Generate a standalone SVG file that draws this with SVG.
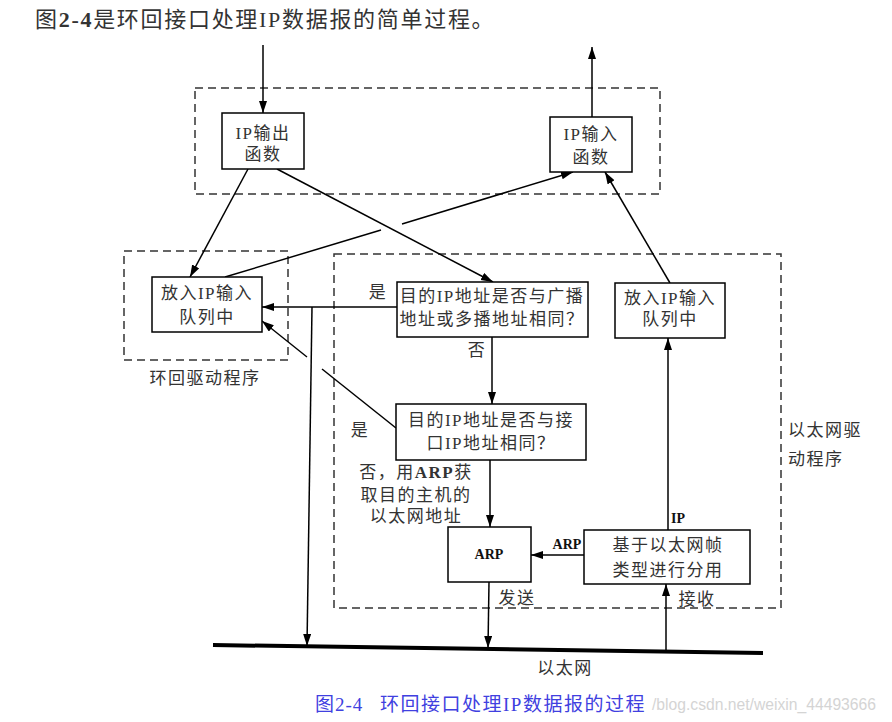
<svg xmlns="http://www.w3.org/2000/svg" width="892" height="722" viewBox="0 0 892 722">
<defs>
<marker id="arr" markerUnits="userSpaceOnUse" markerWidth="13" markerHeight="9" refX="12" refY="4" orient="auto">
<path d="M0,0 L12,4 L0,8 z" fill="#000"/>
</marker>
<style>
.t{font-family:"Liberation Serif","Noto Sans CJK SC",serif;font-size:17px;fill:#333;letter-spacing:1.5px}
.c{text-anchor:middle}
.b{font-family:"Liberation Serif",serif;font-weight:bold;fill:#111}
.box{fill:#fff;stroke:#000;stroke-width:1.5}
.dash{fill:none;stroke:#333;stroke-width:1.5;stroke-dasharray:8 5}
.ln{fill:none;stroke:#000;stroke-width:1.5}
.ar{marker-end:url(#arr)}
</style>
</defs>
<rect width="892" height="722" fill="#fff"/>
<text x="35" y="27" class="t" style="font-size:22px;letter-spacing:1.7px">图<tspan class="b" style="fill:#333">2-4</tspan>是环回接口处理<tspan class="b" style="font-weight:normal;fill:#333">IP</tspan>数据报的简单过程。</text>

<g id="groups">
<rect class="dash" x="195" y="88" width="465" height="106"/>
<rect class="dash" x="124" y="251" width="164" height="109"/>
<rect class="dash" x="334" y="254" width="447" height="354"/>
<text x="205" y="384" class="t c">环回驱动程序</text>
<text x="788" y="436" class="t">以太网驱</text>
<text x="788" y="465" class="t">动程序</text>
</g>

<g id="connectors">
<line class="ln ar" x1="263" y1="45" x2="263" y2="113"/>
<line class="ln ar" x1="592" y1="117" x2="592" y2="47"/>
<line class="ln ar" x1="248" y1="169" x2="190" y2="277"/>
<line class="ln ar" x1="277" y1="169" x2="493" y2="282"/>
<line class="ln" x1="225" y1="277" x2="381" y2="230"/>
<line class="ln ar" x1="402" y1="224" x2="573" y2="172"/>
<line class="ln ar" x1="670" y1="283" x2="605" y2="172"/>
<line class="ln ar" x1="397" y1="307" x2="262" y2="307"/>
<line class="ln ar" x1="312" y1="307" x2="307" y2="646"/>
<line class="ln ar" x1="492" y1="337" x2="492" y2="404"/>
<line class="ln" x1="396" y1="428" x2="322" y2="369"/>
<line class="ln ar" x1="307" y1="357" x2="262" y2="321"/>
<line class="ln ar" x1="490" y1="460" x2="490" y2="527"/>
<line class="ln ar" x1="584" y1="555" x2="531" y2="555"/>
<line class="ln ar" x1="668" y1="530" x2="668" y2="338"/>
<line class="ln ar" x1="489" y1="582" x2="488" y2="648"/>
<line class="ln ar" x1="666" y1="652" x2="666" y2="584"/>
<line x1="213" y1="645" x2="763" y2="653" stroke="#000" stroke-width="4"/>
<text x="378" y="298" class="t c">是</text>
<text x="477" y="356" class="t c">否</text>
<text x="360" y="436" class="t c">是</text>
<text x="416" y="478" class="t c">否，用<tspan class="b" style="font-weight:bold;fill:#333">ARP</tspan>获</text>
<text x="416" y="501" class="t c">取目的主机的</text>
<text x="416" y="522" class="t c">以太网地址</text>
<text x="567" y="549" class="b c" style="font-size:14px">ARP</text>
<text x="678" y="523" class="b c" style="font-size:14px">IP</text>
<text x="517" y="604" class="t c">发送</text>
<text x="697" y="605" class="t c">接收</text>
<text x="565" y="674" class="t c">以太网</text>
</g>

<g id="ip-output">
<rect class="box" x="222" y="113" width="82" height="56"/>
<text x="263" y="139" class="t c"><tspan class="b" style="font-weight:normal;fill:#333">IP</tspan>输出</text>
<text x="263" y="160" class="t c">函数</text>
</g>
<g id="ip-input">
<rect class="box" x="550" y="117" width="82" height="55"/>
<text x="591" y="140" class="t c"><tspan class="b" style="font-weight:normal;fill:#333">IP</tspan>输入</text>
<text x="591" y="163" class="t c">函数</text>
</g>
<g id="loop-queue">
<rect class="box" x="152" y="277" width="110" height="55"/>
<text x="207" y="299" class="t c">放入<tspan class="b" style="font-weight:normal;fill:#333">IP</tspan>输入</text>
<text x="207" y="323" class="t c">队列中</text>
</g>
<g id="check-broadcast">
<rect class="box" x="397" y="282" width="191" height="55"/>
<text x="492" y="302" class="t c">目的<tspan class="b" style="font-weight:normal;fill:#333">IP</tspan>地址是否与广播</text>
<text x="492" y="325" class="t c">地址或多播地址相同？</text>
</g>
<g id="eth-queue">
<rect class="box" x="615" y="283" width="110" height="55"/>
<text x="670" y="304" class="t c">放入<tspan class="b" style="font-weight:normal;fill:#333">IP</tspan>输入</text>
<text x="670" y="325" class="t c">队列中</text>
</g>
<g id="check-iface">
<rect class="box" x="396" y="404" width="190" height="56"/>
<text x="491" y="426" class="t c">目的<tspan class="b" style="font-weight:normal;fill:#333">IP</tspan>地址是否与接</text>
<text x="491" y="449" class="t c">口<tspan class="b" style="font-weight:normal;fill:#333">IP</tspan>地址相同？</text>
</g>
<g id="arp">
<rect class="box" x="448" y="527" width="83" height="55"/>
<text x="489" y="559" class="b c" style="font-size:14px">ARP</text>
</g>
<g id="demux">
<rect class="box" x="584" y="530" width="166" height="54"/>
<text x="668" y="551" class="t c">基于以太网帧</text>
<text x="668" y="576" class="t c">类型进行分用</text>
</g>

<text x="315" y="711" style="font-family:'Liberation Serif','Noto Sans CJK SC',serif;font-size:19px;fill:#4040e0;letter-spacing:1px">图2-4</text>
<text x="380" y="711" style="font-family:'Liberation Serif','Noto Sans CJK SC',serif;font-size:19px;fill:#4040e0;letter-spacing:1.5px">环回接口处理IP数据报的过程</text>
<text x="652" y="710" style="font-family:'Liberation Sans',sans-serif;font-size:16px;fill:#d4d4d4" textLength="224" lengthAdjust="spacingAndGlyphs">/blog.csdn.net/weixin_44493666</text>
</svg>
